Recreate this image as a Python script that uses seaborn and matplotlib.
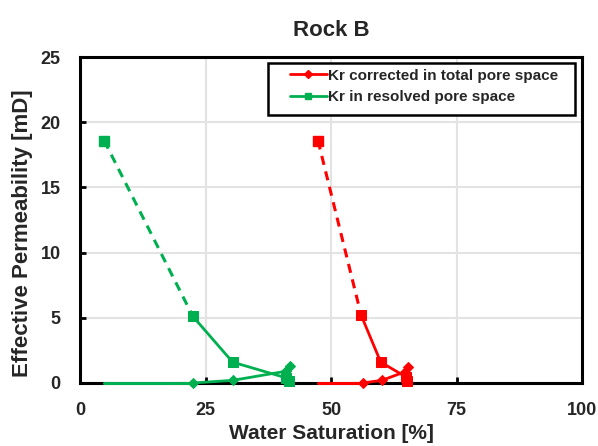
import pandas as pd
import numpy as np
import matplotlib.pyplot as plt
import seaborn as sns
from matplotlib.lines import Line2D
from matplotlib.patches import Rectangle

#DATA---------
# Kr in resolved pore space (green)
green_sq_x = [4.8, 22.5, 30.4, 41.0, 41.6]
green_sq_y = [18.6, 5.1, 1.6, 0.4, 0.15]
green_dm_x = [4.8, 22.5, 30.4, 41.0, 41.8]
green_dm_y = [0.0, 0.0, 0.2, 0.9, 1.3]

# Kr corrected in total pore space (red)
red_sq_x = [47.4, 56.0, 59.9, 65.0, 65.2]
red_sq_y = [18.6, 5.2, 1.6, 0.45, 0.15]
red_dm_x = [47.4, 56.3, 60.1, 64.7, 65.3]
red_dm_y = [0.0, 0.0, 0.2, 0.85, 1.25]

x_ticks = [0, 25, 50, 75, 100]
y_ticks = [0, 5, 10, 15, 20, 25]
labels = ['Kr corrected in total pore space', 'Kr in resolved pore space']

RED = '#ff0000'
GREEN = '#00b050'

#STYLE---------
sns.set_style('whitegrid', {'grid.color': '#e0e0e0', 'axes.edgecolor': 'black'})
plt.rcParams['font.family'] = ['Liberation Sans', 'DejaVu Sans']
plt.rcParams['font.weight'] = 'bold'

fig = plt.figure(figsize=(5.98, 4.46), dpi=100)
ax = fig.add_axes([0.1338, 0.1413, 0.8395, 0.7307])


def draw_series(xs, ys, color, marker, ms, first_marker, dashed_first):
    # first segment (dashed for the square series), solid for the rest
    d1 = pd.DataFrame({'x': xs[:2], 'y': ys[:2]})
    d2 = pd.DataFrame({'x': xs[1:], 'y': ys[1:]})
    ls = (0, (3, 2.2)) if dashed_first else '-'
    sns.lineplot(data=d1, x='x', y='y', ax=ax, color=color, lw=2.2,
                 linestyle=ls, sort=False, clip_on=False, zorder=3)
    sns.lineplot(data=d2, x='x', y='y', ax=ax, color=color, lw=2.0,
                 marker=marker, markersize=ms, markeredgecolor=color,
                 sort=False, clip_on=False, zorder=3)
    if first_marker:
        ax.plot(xs[0], ys[0], marker=marker, color=color, ms=ms,
                clip_on=False, zorder=3)


draw_series(green_dm_x, green_dm_y, GREEN, 'D', 5.5, False, False)
draw_series(green_sq_x, green_sq_y, GREEN, 's', 7, True, True)
draw_series(red_dm_x, red_dm_y, RED, 'D', 5.5, False, False)
draw_series(red_sq_x, red_sq_y, RED, 's', 7, True, True)

ax.set_xlim(0, 100)
ax.set_ylim(0, 25)
ax.set_xticks(x_ticks)
ax.set_yticks(y_ticks)
ax.tick_params(direction='in', length=4, width=2, color='black',
               labelsize=13, pad=14, bottom=True, left=True)
for lab in ax.get_xticklabels() + ax.get_yticklabels():
    lab.set_fontweight('bold')
ax.grid(True, lw=1.5, color='#e3e3e3')
for s in ax.spines.values():
    s.set_linewidth(2.2)
    s.set_color('black')

ax.set_xlabel('Water Saturation [%]', fontsize=15, fontweight='bold', labelpad=3)
ax.set_ylabel('Effective Permeability [mD]', fontsize=16, fontweight='bold')
ax.yaxis.set_label_coords(-0.094, 0.46)
ax.set_title('Rock B', fontsize=16, fontweight='bold', pad=15)

# legend box
ax.add_patch(Rectangle((0.3745, 0.822), 0.6115, 0.16, transform=ax.transAxes,
                       facecolor='white', edgecolor='black', lw=1.8,
                       zorder=4.5, clip_on=False))
handles = [Line2D([], [], color=RED, lw=2, marker='D', ms=4),
           Line2D([], [], color=GREEN, lw=2, marker='s', ms=5)]
leg = ax.legend(handles, labels, loc='upper left', bbox_to_anchor=(0.418, 0.964),
                fontsize=11, frameon=False, handlelength=2.4,
                handletextpad=0.1, borderpad=0, borderaxespad=0,
                labelspacing=0.5)
leg.set_zorder(5)
for t in leg.get_texts():
    t.set_fontweight('bold')

plt.savefig('out.png', dpi=100)
